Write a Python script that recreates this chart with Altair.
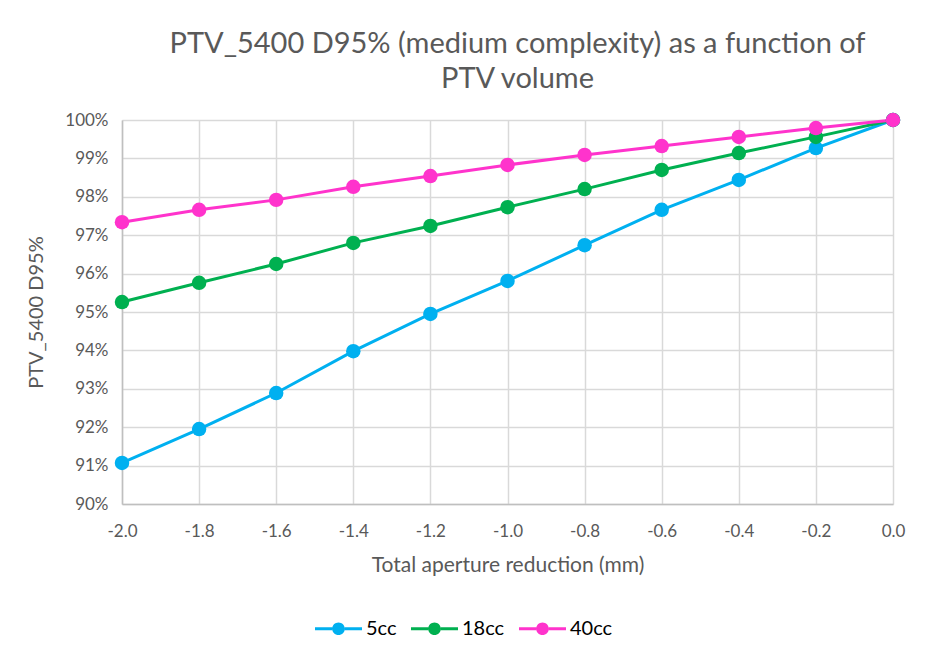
import altair as alt
import pandas as pd

x_vals = [-2.0, -1.8, -1.6, -1.4, -1.2, -1.0, -0.8, -0.6, -0.4, -0.2, 0.0]
s5 = [91.07, 91.95, 92.89, 93.98, 94.95, 95.81, 96.74, 97.66, 98.44, 99.27, 100.0]
s18 = [95.26, 95.76, 96.25, 96.80, 97.24, 97.73, 98.20, 98.70, 99.14, 99.56, 100.0]
s40 = [97.34, 97.66, 97.92, 98.26, 98.54, 98.83, 99.09, 99.32, 99.56, 99.79, 100.0]
series = ["5cc", "18cc", "40cc"]
colors = ["#00B0F0", "#00B050", "#FF33CC"]

rows = []
for name, vals in zip(series, [s5, s18, s40]):
    for xv, yv in zip(x_vals, vals):
        rows.append({"x": xv, "y": yv / 100.0, "series": name})
df = pd.DataFrame(rows)

FONT = "Lato"
GREY = "#595959"

scale = alt.Scale(domain=series, range=colors)

legend = alt.Legend(
    title=None,
    orient="none",
    direction="horizontal",
    legendX=193,
    legendY=485,
    symbolType=(
        "M-1,-0.064H-0.27V0.064H-1Z"
        "M0.27,-0.064H1V0.064H0.27Z"
        "M-0.27,0a0.27,0.27 0 1,0 0.54,0a0.27,0.27 0 1,0 -0.54,0Z"
    ),
    symbolSize=2209,
    symbolStrokeWidth=0,
    symbolOpacity=1,
    labelFont=FONT,
    labelFontSize=20,
    labelColor="#000000",
    labelOffset=4,
    columnPadding=14,
)

x_enc = alt.X(
    "x:Q",
    scale=alt.Scale(domain=[-2.0, 0.0], nice=False),
    axis=alt.Axis(
        title="Total aperture reduction (mm)",
        values=x_vals,
        labelExpr="(datum.value < -0.0001 ? '-' : '') + format(abs(datum.value), '.1f')",
        labelFlush=False,
        labelPadding=19,
        titlePadding=15,
        titleFontSize=21,
    ),
)
y_enc = alt.Y(
    "y:Q",
    scale=alt.Scale(domain=[0.9, 1.0], nice=False),
    axis=alt.Axis(
        title="PTV_5400 D95%",
        values=[0.90, 0.91, 0.92, 0.93, 0.94, 0.95, 0.96, 0.97, 0.98, 0.99, 1.0],
        format=".0%",
        labelFlush=False,
        labelPadding=14,
        titlePadding=18,
        titleFontSize=20,
    ),
)

lines = alt.Chart(df).mark_line(strokeWidth=3).encode(
    x=x_enc, y=y_enc,
    color=alt.Color("series:N", scale=scale, sort=series, legend=None),
)
points = alt.Chart(df).mark_point(filled=True, size=210, opacity=1, shape="circle").encode(
    x=x_enc, y=y_enc,
    color=alt.Color("series:N", scale=scale, sort=series, legend=legend),
)

chart = (
    alt.layer(lines, points)
    .resolve_legend(color="independent")
    .properties(
        width=771,
        height=384,
        padding={"left": 114, "top": 112, "right": 20, "bottom": 140},
        autosize=alt.AutoSizeParams(type="none"),
        title=alt.Title(
            text=["PTV_5400 D95% (medium complexity) as a function of", "PTV volume"],
            font=FONT,
            fontSize=29,
            fontWeight="normal",
            color=GREY,
            anchor="middle",
            dx=10,
            offset=17,
            lineHeight=35,
        ),
    )
    .configure_view(stroke=None)
    .configure_axis(
        labelFont=FONT,
        titleFont=FONT,
        labelFontSize=17,
        labelColor=GREY,
        titleColor=GREY,
        titleFontWeight="normal",
        gridColor="#D9D9D9",
        gridWidth=1.5,
        domainColor="#BFBFBF",
        domainWidth=1.5,
        ticks=False,
    )
)

chart.save("out.html", embed_options={"renderer": "svg", "actions": False})
